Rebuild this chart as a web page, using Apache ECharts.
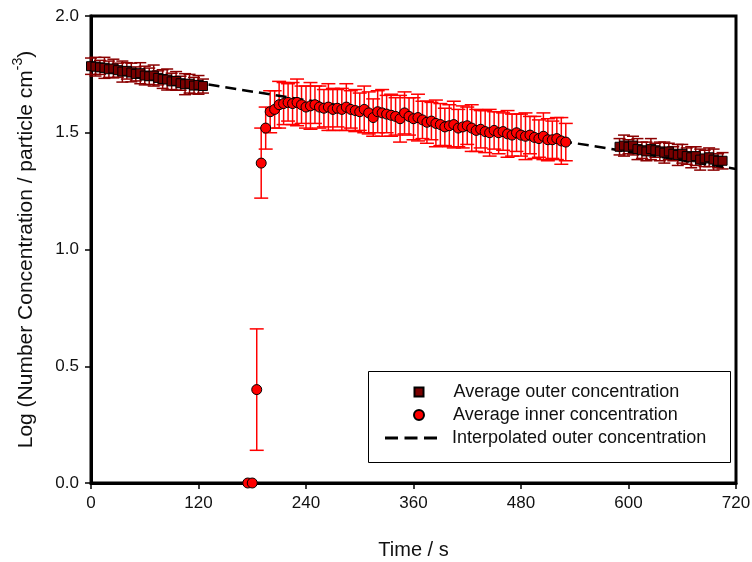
<!DOCTYPE html>
<html><head><meta charset="utf-8">
<script src="https://cdn.jsdelivr.net/npm/echarts@6/dist/echarts.min.js"></script>
<style>html,body{margin:0;padding:0;background:#fff}#c{width:752px;height:562px}</style>
</head><body><div id="c"></div>
<script>
// ---- data ----
const outerT = [0,5,10,15,20,25,30,35,40,45,50,55,60,65,70,75,80,85,90,95,100,105,110,115,120,125,
  590,595,600,605,610,615,620,625,630,635,640,645,650,655,660,665,670,675,680,685,690,695,700,705];
const outerV = [1.785,1.783,1.780,1.778,1.772,1.775,1.768,1.762,1.765,1.758,1.752,1.755,1.745,1.742,1.745,1.735,1.730,1.728,1.720,1.722,1.712,1.708,1.710,1.702,1.705,1.700,
  1.440,1.445,1.440,1.445,1.430,1.425,1.420,1.430,1.425,1.420,1.415,1.420,1.410,1.405,1.410,1.400,1.395,1.400,1.385,1.390,1.395,1.385,1.380,1.380];
const outerErr = [0.035,0.04,0.03,0.045,0.035,0.04,0.03,0.045,0.035,0.04,0.03,0.045,0.04,0.035,0.045,0.03,0.04,0.045,0.035,0.04,0.03,0.045,0.04,0.035,0.04,0.03,
  0.035,0.045,0.03,0.04,0.045,0.035,0.04,0.045,0.03,0.04,0.045,0.035,0.03,0.045,0.04,0.035,0.045,0.04,0.045,0.035,0.04,0.045,0.03,0.035];

const innerT = [175,180,185,190,195,200,205,210,215,220,225,230,235,240,245,250,255,260,265,270,275,280,285,290,295,300,305,310,315,320,325,330,335,340,345,350,355,360,365,370,375,380,385,390,395,400,405,410,415,420,425,430,435,440,445,450,455,460,465,470,475,480,485,490,495,500,505,510,515,520,525,530];
const innerV = [0,0,0.40,1.37,1.52,1.59,1.60,1.62,1.625,1.63,1.625,1.63,1.62,1.61,1.615,1.62,1.61,1.605,1.61,1.60,1.605,1.60,1.61,1.60,1.595,1.59,1.60,1.585,1.565,1.59,1.585,1.58,1.575,1.57,1.56,1.585,1.57,1.56,1.565,1.555,1.545,1.55,1.54,1.535,1.525,1.53,1.535,1.52,1.525,1.53,1.52,1.51,1.515,1.505,1.50,1.51,1.50,1.505,1.495,1.49,1.50,1.49,1.485,1.49,1.48,1.475,1.485,1.47,1.47,1.475,1.465,1.46];
const innerErr = [0,0,0.26,0.15,0.09,0.09,0.08,0.10,0.09,0.08,0.09,0.10,0.08,0.09,0.10,0.08,0.09,0.08,0.10,0.09,0.08,0.09,0.10,0.08,0.09,0.08,0.10,0.09,0.08,0.09,0.10,0.08,0.09,0.08,0.10,0.09,0.08,0.09,0.10,0.08,0.09,0.08,0.10,0.09,0.08,0.09,0.10,0.08,0.09,0.08,0.10,0.09,0.08,0.09,0.10,0.08,0.09,0.08,0.10,0.09,0.08,0.09,0.10,0.08,0.09,0.08,0.10,0.09,0.08,0.09,0.10,0.08];

const interpT = [0,120,240,360,480,600,720];
const interpV = [1.786,1.713,1.640,1.566,1.492,1.419,1.345];

const xTicks = [0,120,240,360,480,600,720];
const yTicks = [0,0.5,1.0,1.5,2.0];

const legendNames = ['Average outer concentration','Average inner concentration','Interpolated outer concentration'];

// ---- chart ----
const zip3 = (a,b,c) => a.map((v,i)=>[v,b[i],c[i]]);
function errBar(color, hw){
  return function(params, api){
    const x = api.value(0), y = api.value(1), e = api.value(2);
    if (!e) return;
    const t = api.coord([x, y+e]), b = api.coord([x, y-e]);
    const st = {stroke: color, lineWidth: 1.5};
    return {type:'group', children:[
      {type:'line', shape:{x1:t[0],y1:t[1],x2:b[0],y2:b[1]}, style:st},
      {type:'line', shape:{x1:t[0]-hw,y1:t[1],x2:t[0]+hw,y2:t[1]}, style:st},
      {type:'line', shape:{x1:b[0]-hw,y1:b[1],x2:b[0]+hw,y2:b[1]}, style:st}
    ]};
  };
}
const FONT = 'Liberation Sans, Arial, sans-serif';
const legTxt = pl => ({fontSize:18, color:'#111', fontFamily:FONT, padding:[0,0,0,pl]});
const dashIcon = 'path://M0,0H13V3H0Z M19.5,0H32.5V3H19.5Z M39,0H52V3H39Z';
const chart = echarts.init(document.getElementById('c'), null, {renderer:'canvas'});
chart.setOption({
  animation:false,
  textStyle:{fontFamily:FONT},
  grid:{left:91, right:16, top:16, bottom:79, show:true, borderColor:'#000', borderWidth:3, outerBoundsMode:'none', containLabel:false},
  xAxis:{type:'value', min:0, max:720, interval:120,
    name:'Time / s', nameLocation:'middle', nameGap:57,
    nameTextStyle:{fontSize:20, color:'#111', fontFamily:FONT},
    axisLine:{lineStyle:{color:'#000', width:3}},
    axisTick:{show:true, length:6, lineStyle:{color:'#000', width:1.5}, customValues:xTicks},
    axisLabel:{fontSize:17, color:'#111', margin:12, fontFamily:FONT, customValues:xTicks},
    splitLine:{show:false}},
  yAxis:{type:'value', min:0, max:2, interval:0.5,
    name:'{a|Log (Number Concentration / particle cm}{s|-3}{a|)}', nameLocation:'middle', nameGap:54, nameRotate:90,
    nameTextStyle:{color:'#111', fontFamily:FONT, rich:{
      a:{fontSize:21, color:'#111', fontFamily:FONT, lineHeight:26, verticalAlign:'bottom'},
      s:{fontSize:14, color:'#111', fontFamily:FONT, lineHeight:26, verticalAlign:'top', padding:[0,0,10,0]}}},
    axisLine:{lineStyle:{color:'#000', width:3}},
    axisTick:{show:true, length:6, lineStyle:{color:'#000', width:1.5}, customValues:yTicks},
    axisLabel:{fontSize:17, color:'#111', margin:12, fontFamily:FONT, formatter:v=>v.toFixed(1), customValues:yTicks},
    splitLine:{show:false}},
  graphic:[{type:'rect', shape:{x:368.5, y:371.5, width:362, height:91}, style:{fill:'#fff', stroke:'#000', lineWidth:1}, z:10}],
  legend:[
    {orient:'vertical', left:413.5, top:383, padding:0, itemWidth:9, itemHeight:9, textStyle:legTxt(25), data:[legendNames[0]], z:20},
    {orient:'vertical', left:413, top:406, padding:0, itemWidth:10, itemHeight:10, textStyle:legTxt(24), data:[legendNames[1]], z:20},
    {orient:'vertical', left:385, top:429, padding:0, itemWidth:52, itemHeight:9, textStyle:legTxt(10),
      data:[{name:legendNames[2], icon:dashIcon, itemStyle:{color:'#000', borderWidth:0}}], z:20}
  ],
  series:[
    {type:'custom', name:'outerErr', renderItem:errBar('#8b0000',6), data:zip3(outerT,outerV,outerErr), z:2, clip:false, silent:true},
    {type:'custom', name:'innerErr', renderItem:errBar('#ff0000',7), data:zip3(innerT,innerV,innerErr), z:2, clip:false, silent:true},
    {type:'line', name:legendNames[2], data:interpT.map((t,i)=>[t,interpV[i]]), symbol:'none',
      lineStyle:{color:'#000', width:2.5, type:[11,6]}, itemStyle:{color:'#000'}, z:3},
    {type:'scatter', name:legendNames[0], data:outerT.map((t,i)=>[t,outerV[i]]), symbol:'rect', symbolSize:9,
      itemStyle:{color:'#7a0000', borderColor:'#000', borderWidth:1, opacity:1}, z:4, clip:false},
    {type:'scatter', name:legendNames[1], data:innerT.map((t,i)=>[t,innerV[i]]), symbol:'circle', symbolSize:10,
      itemStyle:{color:'#ff0000', borderColor:'#000', borderWidth:1, opacity:1}, z:5, clip:false}
  ]
});
</script></body></html>
